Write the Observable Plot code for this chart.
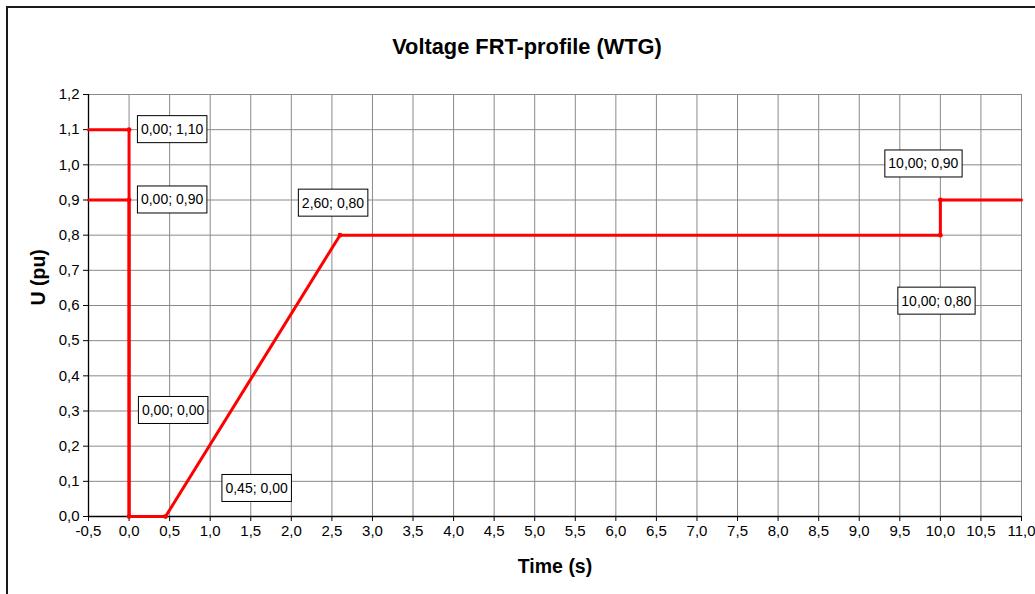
<!DOCTYPE html>
<html>
<head>
<meta charset="utf-8">
<script src="https://cdn.jsdelivr.net/npm/d3@7"></script>
<script src="https://cdn.jsdelivr.net/npm/@observablehq/plot@0.6"></script>
<style>
  html, body { margin: 0; padding: 0; background: #fff; overflow: hidden; }
  #frame { position: absolute; left: 6px; top: 6px; width: 1100px; height: 700px; border: 2px solid #1a1a1a; box-sizing: border-box; }
  #chart { position: absolute; left: 0; top: 0; }
</style>
</head>
<body>
<div id="frame"></div>
<div id="chart"></div>
<script>
// ---- data ----
const xTicks = [-0.5, 0, 0.5, 1, 1.5, 2, 2.5, 3, 3.5, 4, 4.5, 5, 5.5, 6, 6.5, 7, 7.5, 8, 8.5, 9, 9.5, 10, 10.5, 11];
const yTicks = [0, 0.1, 0.2, 0.3, 0.4, 0.5, 0.6, 0.7, 0.8, 0.9, 1.0, 1.1, 1.2];

const upperTime = [-0.5, 0, 0];
const upperU    = [1.1, 1.1, 0];

const lowerTime = [-0.5, 0, 0, 0, 0.45, 2.6, 10, 10, 11];
const lowerU    = [0.9, 0.9, 0, 0, 0, 0.8, 0.8, 0.9, 0.9];

const markTime = [0, 0, 0, 0.45, 2.6, 10, 10];
const markU    = [1.1, 0.9, 0, 0, 0.8, 0.8, 0.9];

const title = "Voltage FRT-profile (WTG)";
const xTitle = "Time (s)";
const yTitle = "U (pu)";

// label placement (pixel offsets from each marked point), layout only
const labelLayout = [
  {dx: 43, dy: 0},
  {dx: 43, dy: 0},
  {dx: 44, dy: -106},
  {dx: 91, dy: -28},
  {dx: -7, dy: -32},
  {dx: -4, dy: 66},
  {dx: -17, dy: -36}
];

// ---- build ----
const comma = s => s.replace(/\./g, ",").replace(/\u2212/g, "-");
const fmt1 = d => comma(d3.format(".1f")(d));
const fmt2 = d => comma(d3.format(".2f")(d));

const upper = upperTime.map((t, i) => ({t, u: upperU[i]}));
const lower = lowerTime.map((t, i) => ({t, u: lowerU[i]}));
const marks = markTime.map((t, i) => ({t, u: markU[i], label: fmt2(t) + "; " + fmt2(markU[i])}));
const labelSet = new Set(marks.map(m => m.label));

const RED = "#ff0000";
const GRID = "#8a8a8a";

const labelMarks = marks.map((m, i) => Plot.text([m], {
  x: "t", y: "u", text: "label",
  dx: labelLayout[i].dx, dy: labelLayout[i].dy,
  fontSize: 14, fill: "#000"
}));

const chart = Plot.plot({
  width: 1035,
  height: 594,
  marginLeft: 88,
  marginRight: 14,
  marginTop: 94,
  marginBottom: 78,
  x: {domain: [-0.5, 11], label: null},
  y: {domain: [0, 1.2], label: null},
  style: {fontFamily: "'Liberation Sans', Arial, sans-serif", fontSize: "15px", color: "#000", background: "transparent", overflow: "visible"},
  marks: [
    Plot.gridX(xTicks, {stroke: GRID, strokeOpacity: 1}),
    Plot.gridY(yTicks, {stroke: GRID, strokeOpacity: 1}),
    Plot.ruleX([-0.5], {stroke: "#000", strokeWidth: 1.3}),
    Plot.ruleY([0], {stroke: "#000", strokeWidth: 1.3}),
    Plot.axisX(xTicks, {tickSize: 5, tickPadding: 4, tickFormat: fmt1, label: null, stroke: "#000", fontSize: 15}),
    Plot.axisY(yTicks, {tickSize: 5, tickPadding: 4, tickFormat: fmt1, label: null, stroke: "#000", fontSize: 15}),
    Plot.line(upper, {x: "t", y: "u", stroke: RED, strokeWidth: 3, strokeLinejoin: "miter"}),
    Plot.line(lower, {x: "t", y: "u", stroke: RED, strokeWidth: 3, strokeLinejoin: "miter"}),
    Plot.dot(marks, {x: "t", y: "u", r: 2.4, fill: RED, stroke: null}),
    ...labelMarks,
    Plot.text([title], {frameAnchor: "top", dx: -28, dy: -56, fontSize: 21.8, fontWeight: "bold", fill: "#000"}),
    Plot.text([xTitle], {frameAnchor: "bottom", dx: 0, dy: 56, fontSize: 19.5, fontWeight: "bold", fill: "#000"}),
    Plot.text([yTitle], {frameAnchor: "left", dx: -50, dy: 0, rotate: -90, fontSize: 19.5, fontWeight: "bold", fill: "#000"})
  ]
});

document.getElementById("chart").appendChild(chart);

// white boxes with black outline behind data labels
chart.querySelectorAll("text").forEach(t => {
  if (!labelSet.has(t.textContent)) return;
  const b = t.getBBox();
  const r = document.createElementNS("http://www.w3.org/2000/svg", "rect");
  const padX = 3.5, padY = 6;
  r.setAttribute("x", b.x - padX);
  r.setAttribute("y", b.y - padY + 0.5);
  r.setAttribute("width", b.width + 2 * padX);
  r.setAttribute("height", b.height + 2 * padY - 1);
  r.setAttribute("fill", "#fff");
  r.setAttribute("stroke", "#000");
  r.setAttribute("stroke-width", 1);
  if (t.getAttribute("transform")) r.setAttribute("transform", t.getAttribute("transform"));
  t.parentNode.insertBefore(r, t);
});
</script>
</body>
</html>
